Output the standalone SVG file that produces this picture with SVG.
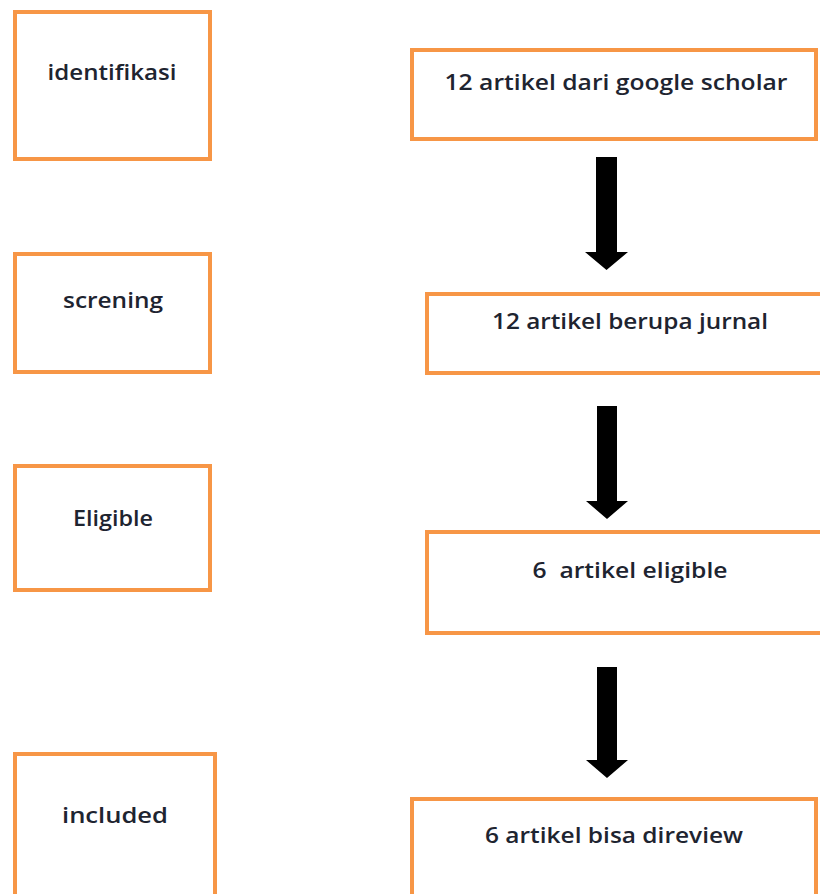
<svg xmlns="http://www.w3.org/2000/svg" width="820" height="894" viewBox="0 0 820 894">
<style>
.box{fill:#fff;stroke:#f79646;stroke-width:4}
.t{font-family:"Open Sans","Noto Sans",sans-serif;font-size:21px;font-weight:600;fill:#1e2430;text-anchor:middle}
.arr{fill:#000}
</style>
<rect width="820" height="894" fill="#fff"/>
<g id="identifikasi"><rect class="box" x="15" y="12" width="195" height="147"/><text class="t" x="112" y="80" textLength="129" lengthAdjust="spacingAndGlyphs">identifikasi</text></g>
<g id="screning"><rect class="box" x="15" y="254" width="195" height="118"/><text class="t" x="113" y="308" textLength="100" lengthAdjust="spacingAndGlyphs">screning</text></g>
<g id="eligible"><rect class="box" x="15" y="466" width="195" height="124"/><text class="t" x="113" y="526" textLength="80" lengthAdjust="spacingAndGlyphs">Eligible</text></g>
<g id="included"><rect class="box" x="15" y="754" width="200" height="150"/><text class="t" x="115" y="823" textLength="106" lengthAdjust="spacingAndGlyphs">included</text></g>
<g id="r1"><rect class="box" x="412" y="50" width="404" height="89"/><text class="t" x="616" y="90" textLength="343" lengthAdjust="spacingAndGlyphs">12 artikel dari google scholar</text></g>
<g id="r2"><rect class="box" x="427" y="294" width="400" height="79"/><text class="t" x="630" y="329" textLength="276" lengthAdjust="spacingAndGlyphs">12 artikel berupa jurnal</text></g>
<g id="r3"><rect class="box" x="427" y="532" width="400" height="101"/><text class="t" x="630" y="578" textLength="195" lengthAdjust="spacingAndGlyphs" xml:space="preserve">6  artikel eligible</text></g>
<g id="r4"><rect class="box" x="412" y="799" width="404" height="110"/><text class="t" x="614" y="843" textLength="258" lengthAdjust="spacingAndGlyphs">6 artikel bisa direview</text></g>
<g id="connectors">
<polygon class="arr" points="596,157 617,157 617,252 628,252 606.5,270 585,252 596,252"/>
<polygon class="arr" points="597,406 617,406 617,501 628,501 607,519 586,501 597,501"/>
<polygon class="arr" points="597,667 617,667 617,760 628,760 607,778 586,760 597,760"/>
</g>
</svg>
